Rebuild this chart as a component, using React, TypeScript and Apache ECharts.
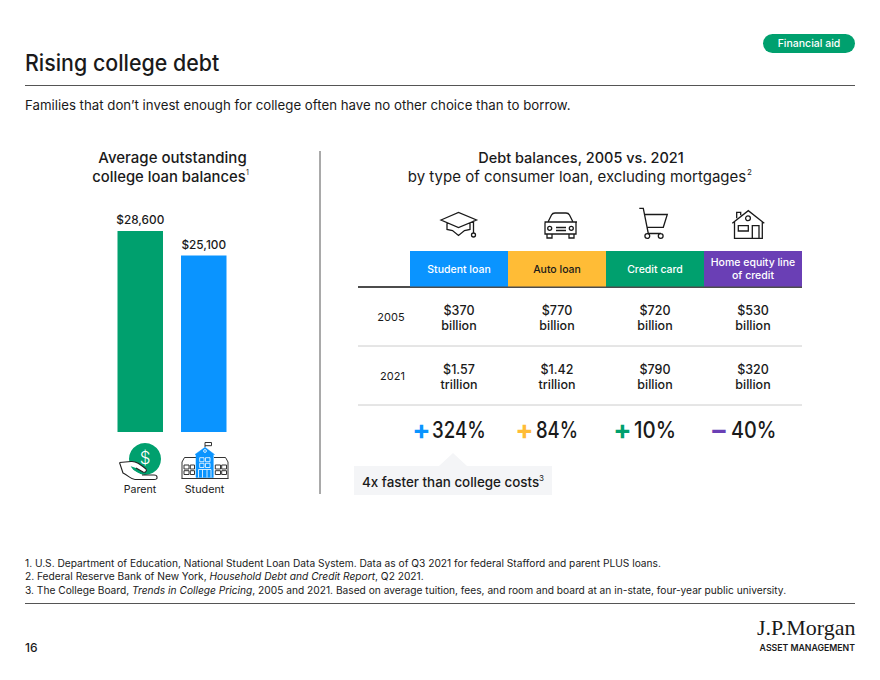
import React, { useEffect, useRef } from "react";
import * as echarts from "echarts";

const FONT = "Inter, 'Noto Sans', sans-serif";
const INK = "#1a1a1a";
const BLUE = "#0A94FF";
const GREEN = "#00A06E";
const YELLOW = "#FFBC36";
const PURPLE = "#6A3FB5";

const barCategories = ["Parent", "Student"];
const barValues = [28600, 25100];
const barLabels = ["$28,600", "$25,100"];
const barColors = [GREEN, BLUE];

const loanTypes = ["Student loan", "Auto loan", "Credit card", "Home equity line\nof credit"];
const loanColors = [BLUE, YELLOW, GREEN, PURPLE];
const loanTextColors = ["#fff", INK, "#fff", "#fff"];
const years = ["2005", "2021"];
const balances2005 = ["$370\nbillion", "$770\nbillion", "$720\nbillion", "$530\nbillion"];
const balances2021 = ["$1.57\ntrillion", "$1.42\ntrillion", "$790\nbillion", "$320\nbillion"];
const changeSigns = ["+", "+", "+", "−"];
const changeValues = ["324%", "84%", "10%", "40%"];

const circle = (cx: number, cy: number, r: number) =>
  `M${cx - r} ${cy}a${r} ${r} 0 1 0 ${2 * r} 0a${r} ${r} 0 1 0 ${-2 * r} 0Z`;

const ICONS: Record<string, string> = {
  iconCap:
    "M441 220L458.5 212.5L476.5 220L458.5 227.5ZM447 223V229.5L452.5 230.5L458.5 235.5L464.5 230.5L470 229.5V223M473.5 220.5V233" +
    circle(473.5, 235, 2),
  iconCar:
    "M548 222L551.5 215Q552.5 213 555 213H566Q568.5 213 569.5 215L573 222M546 222H575Q576 222 576 223V234H545V223Q545 222 546 222ZM547 234V238H552V234M569 234V238H574V234M556 227.5H566M556 230.5H566M548 222H544.5M573 222H577" +
    circle(549.7, 228.3, 2) + circle(571.3, 228.3, 2),
  iconCart:
    "M639.3 208.3H643.3L648.3 233.5H661M644.4 214.5H667.3L663.3 227.3H646.7" +
    circle(647.3, 236, 2.4) + circle(660.7, 236, 2.4),
  iconHouse:
    "M732.3 223.3L748.3 210.7L764.3 223.3M734.5 222V238.3H762.3V222M736.7 218.3V212.3H740.7V215.2M738.3 225.7H748.3V231H738.3ZM752.3 238.3V225.7H759V238.3" +
    circle(748, 218.3, 2.4),
  iconHand:
    "M119.5 462.5L131 461.5C136 461 140 464 146 469C147.5 471 145 473 143 472L136 468M119.5 462.5L123 473C129 476 131 479.5 135 479.5H154Q157.5 479.5 157 477Q157 475 154 475H142",
  iconSchoolWings:
    "M181.5 478.5H228.5M182 478.5V462L184.5 457.5H196M214 457.5H225.5L228 462V478.5M184 465H189V469H184ZM190.3 465H194.5V469H190.3ZM184 470.7H189V474.5H184ZM190.3 470.7H194.5V474.5H190.3ZM215.3 465H220.5V469H215.3ZM221.7 465H226.5V469H221.7ZM215.3 470.7H220.5V474.5H215.3ZM221.7 470.7H226.5V474.5H221.7ZM205 447V442.5H211.5V445.7H205",
  iconSchoolBody:
    "M195 454.5L205 447.3L214.5 454.5H213.3V477.5H196V454.5Z",
  iconSchoolLines:
    "M199.7 457.7H204V461.7H199.7ZM205.5 457.7H210V461.7H205.5ZM199.7 463.3H204V467.5H199.7ZM205.5 463.3H210V467.5H205.5ZM198.5 477.5V469.5H211V477.5M202.5 469.5V477.5M207 469.5V477.5" +
    circle(205, 451, 1.4),
};
Object.keys(ICONS).forEach((k) => {
  echarts.graphic.registerShape(k, echarts.graphic.extendPath(ICONS[k], {}));
});

const text = (
  s: string,
  x: number,
  y: number,
  size: number,
  opts: { weight?: number; align?: string; fill?: string; lh?: number; family?: string; sx?: number } = {}
) => ({
  type: "text",
  x,
  y,
  scaleX: opts.sx ?? 1,
  silent: true,
  style: {
    text: s,
    fill: opts.fill ?? INK,
    fontFamily: opts.family ?? FONT,
    fontSize: size,
    fontWeight: opts.weight ?? 400,
    align: opts.align ?? "left",
    verticalAlign: "middle",
    textAlign: opts.align ?? "left",
    textVerticalAlign: "middle",
    lineHeight: opts.lh,
  },
});
const rect = (x: number, y: number, w: number, h: number, fill: string, r = 0) => ({
  type: "rect",
  silent: true,
  shape: { x, y, width: w, height: h, r },
  style: { fill },
});
const line = (x1: number, y1: number, x2: number, y2: number, stroke: string, lineWidth = 1) => ({
  type: "line",
  silent: true,
  shape: { x1, y1, x2, y2 },
  style: { stroke, lineWidth },
});
const icon = (type: string, stroke: string, fill = "none", lineWidth = 1.3) => ({
  type,
  silent: true,
  style: { stroke, fill, lineWidth },
});

const colX = [459, 557, 655, 753];

function buildGraphics() {
  const els: any[] = [
    rect(763, 34, 92, 19, GREEN, 9.5),
    text("Financial aid", 809, 43.5, 10.5, { weight: 500, align: "center", fill: "#fff" }),
    text("Rising college debt", 25, 63, 22.5, { weight: 500, sx: 0.95 }),
    line(25, 85.5, 855, 85.5, "#555", 1.2),
    text("Families that don’t invest enough for college often have no other choice than to borrow.", 25, 105, 13.25),
    text("Average outstanding", 172.5, 157.5, 15, { weight: 500, align: "center" }),
    text("college loan balances", 169, 176.5, 14.8, { weight: 500, align: "center" }),
    text("1", 246, 172, 7),
    line(320, 151, 320, 494, "#555", 1),
    text("Debt balances, 2005 vs. 2021", 581, 157, 14.5, { weight: 500, align: "center" }),
    text("by type of consumer loan, excluding mortgages", 577, 176, 15, { align: "center" }),
    text("2", 747, 172, 8),
    line(358, 287, 802, 287, "#111", 1.5),
    line(358, 346, 802, 346, "#ccc", 1),
    line(358, 405, 802, 405, "#ccc", 1),
    icon("iconCap", INK),
    icon("iconCar", INK),
    icon("iconCart", INK),
    icon("iconHouse", INK),
    { type: "circle", silent: true, shape: { cx: 145, cy: 459, r: 16 }, style: { fill: GREEN } },
    text("$", 145, 458, 17, { align: "center", fill: "#fff", weight: 300 }),
    icon("iconHand", "#222", "#fff", 1.1),
    icon("iconSchoolWings", "#333", "none", 1),
    icon("iconSchoolBody", BLUE, BLUE, 0.5),
    icon("iconSchoolLines", "#fff", "none", 0.8),
    text(barCategories[0], 140, 489, 10.6, { align: "center" }),
    text(barCategories[1], 204.5, 489, 10.8, { align: "center" }),
    text(years[0], 391, 317, 11, { align: "center" }),
    text(years[1], 392.5, 376, 11, { align: "center" }),
    { type: "polygon", silent: true, shape: { points: [[439, 466], [453, 453], [467, 466]] }, style: { fill: "#F4F5F7" } },
    rect(354, 466, 198, 29, "#F4F5F7"),
    text("4x faster than college costs", 362, 482, 13.4, { weight: 500 }),
    text("3", 539, 478, 8),
    {
      type: "text",
      x: 25,
      y: 576,
      silent: true,
      style: {
        text:
          "{a|1. U.S. Department of Education, National Student Loan Data System. Data as of Q3 2021 for federal Stafford and parent PLUS loans.}\n" +
          "{a|2. Federal Reserve Bank of New York, }{i|Household Debt and Credit Report}{a|, Q2 2021.}\n" +
          "{a|3. The College Board, }{i|Trends in College Pricing}{a|, 2005 and 2021. Based on average tuition, fees, and room and board at an in-state, four-year public university.}",
        align: "left",
        verticalAlign: "middle",
        textAlign: "left",
        textVerticalAlign: "middle",
        rich: {
          a: { fontFamily: FONT, fontSize: 10.2, fill: INK, color: INK, lineHeight: 13.5 },
          i: { fontFamily: FONT, fontSize: 10.2, fontStyle: "italic", fill: INK, color: INK, lineHeight: 13.5 },
        },
      },
    },
    line(25, 603.5, 855, 603.5, "#555", 1.2),
    text("16", 25, 647, 12, { weight: 500 }),
    text("J.P.Morgan", 855.5, 627, 22, { align: "right", family: "'Liberation Serif', serif" }),
    text("ASSET MANAGEMENT", 855, 647, 9.5, { align: "right", weight: 600, sx: 0.92 }),
  ];
  loanTypes.forEach((t, i) => {
    els.push(rect(410 + i * 98, 251, 98, 35.5, loanColors[i]));
    els.push(text(t, colX[i], 269, 10.5, { weight: 500, align: "center", fill: loanTextColors[i], lh: 13.5 }));
    els.push(text(balances2005[i], colX[i], 317.5, 12.5, { weight: 500, align: "center", lh: 15 }));
    els.push(text(balances2021[i], colX[i], 376.5, 12.5, { weight: 500, align: "center", lh: 15 }));
  });
  const signX = [421.5, 524.5, 622.5, 719];
  const numX = [432, 536, 634, 731];
  const numSx = [0.83, 0.82, 0.91, 0.88];
  changeValues.forEach((v, i) => {
    els.push(text(changeSigns[i], signX[i], 429.5, 27, { weight: 700, align: "center", fill: loanColors[i] }));
    els.push(text(v, numX[i], 430, 22.5, { weight: 500, sx: numSx[i] }));
  });
  return els;
}

export default function App() {
  const ref = useRef<HTMLDivElement>(null);
  useEffect(() => {
    document.body.style.margin = "0";
    const chart = echarts.init(ref.current!, undefined, { renderer: "svg" });
    chart.setOption({
      animation: false,
      backgroundColor: "#fff",
      grid: { left: 108.5, width: 127, top: 231, height: 201 },
      xAxis: {
        type: "category",
        data: barCategories,
        axisLine: { show: false },
        axisTick: { show: false },
        axisLabel: { show: false },
      },
      yAxis: { type: "value", min: 0, max: 28600, show: false, splitLine: { show: false } },
      graphic: { elements: buildGraphics() },
      series: [
        {
          type: "bar",
          barWidth: 45.5,
          data: barValues.map((v, i) => ({
            value: v,
            itemStyle: { color: barColors[i] },
            label: {
              show: true,
              position: "top",
              distance: 5,
              formatter: barLabels[i],
              fontFamily: FONT,
              fontSize: 11.8,
              fontWeight: 500,
              color: INK,
            },
          })),
        },
      ],
    });
    return () => chart.dispose();
  }, []);
  return <div ref={ref} style={{ width: 880, height: 680 }} />;
}
